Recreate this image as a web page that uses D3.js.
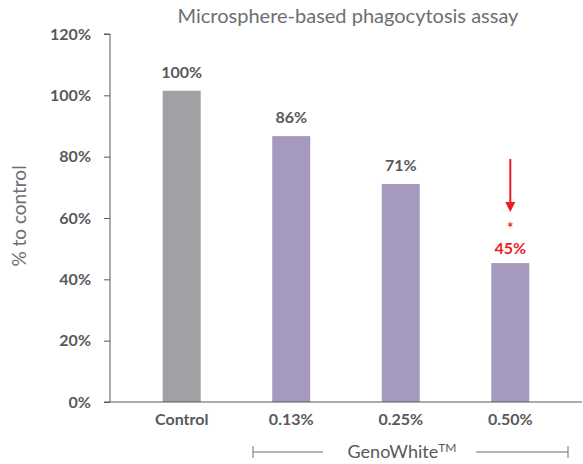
<!DOCTYPE html>
<html>
<head>
<meta charset="utf-8">
<script src="https://cdn.jsdelivr.net/npm/d3@7"></script>
<style>
  body { margin: 0; background: #fff; }
  svg { display: block; font-family: Lato, "Open Sans", sans-serif; }
</style>
</head>
<body>
<svg></svg>
<script>
// values
var categories = ['Control', '0.13%', '0.25%', '0.50%'];
var values = [101.5, 86.7, 71.1, 45.3];
var valueLabels = ['100%', '86%', '71%', '45%'];
var yTicks = [0, 20, 40, 60, 80, 100, 120];

var width = 583, height = 464;
var svg = d3.select('svg').attr('width', width).attr('height', height);

var x = d3.scaleBand().domain(categories).range([127, 565]).paddingInner(0.653).paddingOuter(0.326);
var y = d3.scaleLinear().domain([0, 120]).range([402, 34]);

var grey = '#58595b';
var red = '#ed1c24';

svg.append('text')
  .attr('x', 348).attr('y', 23)
  .attr('text-anchor', 'middle')
  .attr('font-size', 20)
  .attr('fill', '#6d6e71')
  .text('Microsphere-based phagocytosis assay');

svg.append('text')
  .attr('transform', 'translate(26,216) rotate(-90)')
  .attr('text-anchor', 'middle')
  .attr('font-size', 19)
  .attr('fill', '#6d6e71')
  .text('% to control');

// bars
svg.append('g').selectAll('rect')
  .data(values)
  .enter().append('rect')
  .attr('x', (d, i) => x(categories[i]))
  .attr('width', x.bandwidth())
  .attr('y', d => y(d))
  .attr('height', d => y(0) - y(d))
  .attr('fill', (d, i) => i === 0 ? '#a0a1a5' : '#a599bf');

// y axis
var yAxis = svg.append('g')
  .attr('transform', 'translate(110,0)')
  .call(d3.axisLeft(y).tickValues(yTicks).tickSize(6).tickPadding(13).tickFormat(d => d + '%'));
yAxis.select('.domain').attr('stroke', grey).attr('d', 'M-6,' + y(120) + 'H0V' + y(0));
yAxis.selectAll('.tick line').attr('stroke', grey);
yAxis.selectAll('.tick text')
  .attr('font-size', 16).attr('font-weight', 'bold').attr('fill', grey)
  .attr('font-family', 'Lato, sans-serif');

// x axis
var xAxis = svg.append('g')
  .attr('transform', 'translate(0,' + y(0) + ')')
  .call(d3.axisBottom(x).tickSize(0).tickPadding(12));
xAxis.select('.domain').attr('stroke', grey).attr('d', 'M104,0H582');
xAxis.selectAll('.tick text')
  .attr('font-size', 16).attr('font-weight', 'bold').attr('fill', grey)
  .attr('font-family', 'Lato, sans-serif');

// value labels
svg.append('g').selectAll('text')
  .data(values)
  .enter().append('text')
  .attr('x', (d, i) => x(categories[i]) + x.bandwidth() / 2)
  .attr('y', (d, i) => y(d) - (i === 3 ? 9 : 13))
  .attr('text-anchor', 'middle')
  .attr('font-size', 16)
  .attr('font-weight', 'bold')
  .attr('fill', (d, i) => i === 3 ? red : grey)
  .text((d, i) => valueLabels[i]);

// significance star and arrow on the last bar
var cx = x('0.50%') + x.bandwidth() / 2;
var last = values[3];
svg.append('text')
  .attr('x', cx).attr('y', y(last) - 30)
  .attr('text-anchor', 'middle')
  .attr('font-size', 15).attr('font-weight', 'bold')
  .attr('fill', red)
  .text('*');

svg.append('line')
  .attr('x1', cx).attr('x2', cx)
  .attr('y1', 159).attr('y2', 205)
  .attr('stroke', red).attr('stroke-width', 2);
svg.append('path')
  .attr('d', `M${cx - 5},202L${cx + 5},202L${cx},212Z`)
  .attr('fill', red);

// GenoWhite bracket
var bx0 = 253, bx1 = 568, by = 452;
var bracket = svg.append('g').attr('stroke', '#6d6e71').attr('stroke-width', 1);
bracket.append('line').attr('x1', bx0).attr('x2', 323).attr('y1', by).attr('y2', by);
bracket.append('line').attr('x1', 476).attr('x2', bx1).attr('y1', by).attr('y2', by);
bracket.append('line').attr('x1', bx0).attr('x2', bx0).attr('y1', by - 6).attr('y2', by + 6);
bracket.append('line').attr('x1', bx1).attr('x2', bx1).attr('y1', by - 6).attr('y2', by + 6);

var geno = svg.append('text')
  .attr('x', 402).attr('y', 458)
  .attr('text-anchor', 'middle')
  .attr('font-size', 18)
  .attr('fill', '#58595b')
  .text('GenoWhite');
geno.append('tspan').attr('font-size', 12).attr('dy', -6).text('TM');
</script>
</body>
</html>
